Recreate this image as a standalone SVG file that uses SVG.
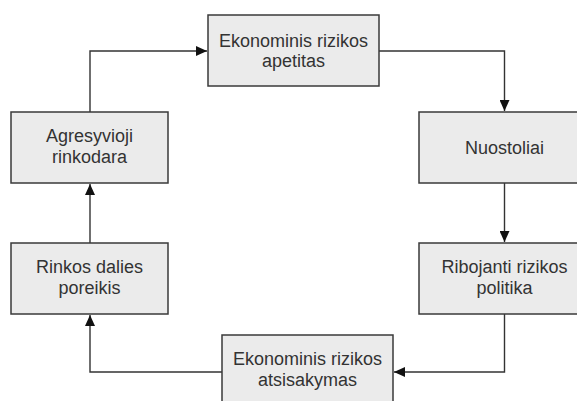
<svg xmlns="http://www.w3.org/2000/svg" width="577" height="401" viewBox="0 0 577 401">
<defs>
<style>
.box{fill:#ebebeb;stroke:#3a3a3a;stroke-width:1.5}
.lbl{font-family:"Liberation Sans",Arial,sans-serif;font-size:18px;fill:#333;text-anchor:middle}
.con{fill:none;stroke:#333;stroke-width:1.4}
</style>
<marker id="arr" markerUnits="userSpaceOnUse" markerWidth="12" markerHeight="10" refX="11" refY="5" orient="auto">
<path d="M0,0 L11,5 L0,10 Z" fill="#111"/>
</marker>
</defs>
<rect width="577" height="401" fill="#fff"/>
<g id="connectors">
<path class="con" d="M90 112 V51 H207" marker-end="url(#arr)"/>
<path class="con" d="M379 51 H504.5 V111" marker-end="url(#arr)"/>
<path class="con" d="M504.5 183 V242" marker-end="url(#arr)"/>
<path class="con" d="M504.5 314 V372 H394" marker-end="url(#arr)"/>
<path class="con" d="M222 372 H90 V315" marker-end="url(#arr)"/>
<path class="con" d="M90 243 V184" marker-end="url(#arr)"/>
</g>
<g id="n-apetitas">
<rect class="box" x="208" y="15" width="171" height="71"/>
<text class="lbl" x="293.5" y="47">Ekonominis rizikos</text>
<text class="lbl" x="293.5" y="67">apetitas</text>
</g>
<g id="n-agresyvioji">
<rect class="box" x="11" y="112" width="157" height="71"/>
<text class="lbl" x="89.5" y="141.5">Agresyvioji</text>
<text class="lbl" x="89.5" y="162.5">rinkodara</text>
</g>
<g id="n-nuostoliai">
<rect class="box" x="419" y="112" width="171" height="71"/>
<text class="lbl" x="504.5" y="153.5">Nuostoliai</text>
</g>
<g id="n-rinkos">
<rect class="box" x="11" y="243" width="157" height="71"/>
<text class="lbl" x="89.5" y="272.5">Rinkos dalies</text>
<text class="lbl" x="89.5" y="293.5">poreikis</text>
</g>
<g id="n-ribojanti">
<rect class="box" x="419" y="243" width="171" height="71"/>
<text class="lbl" x="504.5" y="272.5">Ribojanti rizikos</text>
<text class="lbl" x="504.5" y="293.5">politika</text>
</g>
<g id="n-atsisakymas">
<rect class="box" x="222" y="335" width="171" height="71"/>
<text class="lbl" x="307.5" y="365">Ekonominis rizikos</text>
<text class="lbl" x="307.5" y="386">atsisakymas</text>
</g>
</svg>
